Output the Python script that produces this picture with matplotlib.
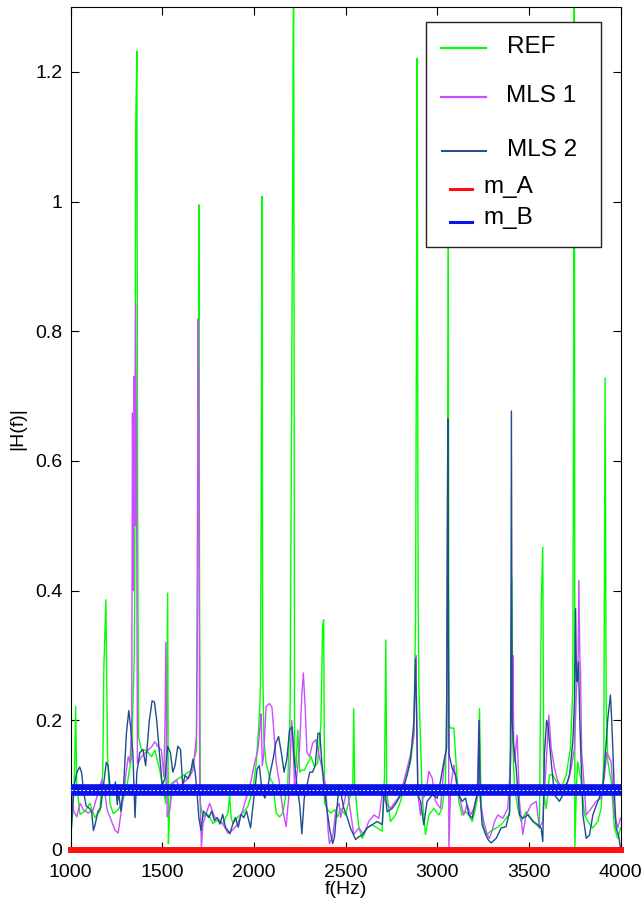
import numpy as np
import matplotlib
matplotlib.use("Agg")
import matplotlib.pyplot as plt
from matplotlib.patches import Rectangle
from matplotlib.lines import Line2D

plt.rcParams['font.family'] = ['Liberation Sans', 'DejaVu Sans']

###################################
# data
###################################

ref_f = [1000, 1012, 1022, 1028, 1034, 1052, 1080, 1106, 1133, 1160, 1176, 1182, 1193, 1202,
         1215, 1233, 1260, 1287, 1310, 1333, 1348, 1351, 1356, 1362, 1366, 1371, 1387, 1414,
         1442, 1460, 1487, 1505, 1520, 1527, 1530, 1534, 1540, 1551, 1578, 1605, 1632, 1659,
         1687, 1693, 1697, 1700, 1704, 1708, 1723, 1741, 1759, 1777, 1804, 1832, 1859, 1868,
         1876, 1886, 1913, 1940, 1967, 1995, 2013, 2031, 2036, 2040, 2044, 2048, 2055, 2067,
         2085, 2104, 2122, 2140, 2158, 2185, 2198, 2208, 2212, 2217, 2222, 2230, 2240, 2250,
         2258, 2276, 2294, 2312, 2330, 2348, 2366, 2375, 2381, 2386, 2403, 2421, 2439, 2457,
         2473, 2500, 2527, 2540, 2545, 2550, 2555, 2573, 2591, 2618, 2645, 2673, 2700, 2713,
         2720, 2725, 2727, 2745, 2773, 2800, 2827, 2855, 2873, 2882, 2887, 2891, 2896, 2900,
         2909, 2918, 2936, 2955, 2982, 3009, 3027, 3045, 3055, 3060, 3064, 3073, 3091, 3105,
         3118, 3136, 3155, 3173, 3191, 3209, 3222, 3231, 3240, 3254, 3273, 3291, 3322, 3349,
         3376, 3395, 3407, 3413, 3422, 3440, 3458, 3485, 3513, 3540, 3558, 3568, 3576, 3582,
         3595, 3613, 3631, 3649, 3676, 3704, 3727, 3740, 3745, 3748, 3751, 3760, 3767, 3785,
         3804, 3822, 3849, 3876, 3894, 3909, 3916, 3922, 3931, 3949, 3967, 3985, 4000]
ref_v = [0.02, 0.055, 0.12, 0.221, 0.10, 0.055, 0.06, 0.072, 0.05, 0.06, 0.12, 0.28, 0.386, 0.145,
         0.072, 0.056, 0.062, 0.077, 0.103, 0.144, 0.30, 0.44, 1.12, 1.232, 0.54, 0.175, 0.154, 0.154,
         0.144, 0.154, 0.123, 0.093, 0.072, 0.30, 0.396, 0.01, 0.06, 0.103, 0.108, 0.113, 0.118, 0.123,
         0.154, 0.375, 0.62, 0.995, 0.40, 0.072, 0.051, 0.057, 0.051, 0.041, 0.046, 0.041, 0.057, 0.085,
         0.05, 0.041, 0.051, 0.057, 0.067, 0.093, 0.134, 0.21, 0.25, 0.532, 1.008, 0.30, 0.17, 0.134,
         0.113, 0.103, 0.057, 0.051, 0.057, 0.103, 0.216, 0.79, 1.037, 1.45, 0.15, 0.127, 0.185, 0.12,
         0.123, 0.123, 0.134, 0.144, 0.129, 0.134, 0.195, 0.345, 0.355, 0.072, 0.062, 0.057, 0.062, 0.051,
         0.064, 0.054, 0.085, 0.10, 0.218, 0.10, 0.085, 0.034, 0.018, 0.034, 0.039, 0.034, 0.029, 0.116,
         0.324, 0.10, 0.085, 0.044, 0.054, 0.075, 0.106, 0.136, 0.177, 0.356, 0.80, 1.221, 0.40, 0.249,
         0.172, 0.085, 0.024, 0.054, 0.064, 0.054, 0.064, 0.106, 0.30, 1.05, 0.193, 0.188, 0.188, 0.126,
         0.075, 0.054, 0.059, 0.054, 0.044, 0.064, 0.085, 0.218, 0.064, 0.034, 0.024, 0.029, 0.034, 0.039,
         0.049, 0.054, 0.42, 0.157, 0.095, 0.064, 0.044, 0.059, 0.049, 0.039, 0.034, 0.383, 0.467, 0.085,
         0.064, 0.116, 0.116, 0.106, 0.095, 0.116, 0.157, 0.249, 0.89, 1.45, 0.003, 0.10, 0.136, 0.106,
         0.054, 0.044, 0.034, 0.044, 0.064, 0.136, 0.728, 0.224, 0.136, 0.106, 0.034, 0.018, 0.034]

mls1_f = [1000, 1015, 1034, 1052, 1070, 1097, 1124, 1150, 1170, 1185, 1200, 1215, 1242, 1260,
          1278, 1296, 1315, 1325, 1334, 1338, 1343, 1347, 1351, 1355, 1360, 1365, 1369, 1387,
          1405, 1423, 1442, 1460, 1478, 1496, 1509, 1516, 1520, 1524, 1527, 1541, 1560, 1578,
          1596, 1614, 1632, 1650, 1668, 1687, 1691, 1696, 1700, 1705, 1714, 1723, 1741, 1759,
          1786, 1813, 1840, 1859, 1886, 1913, 1940, 1967, 1986, 2004, 2022, 2034, 2040, 2046,
          2053, 2067, 2085, 2099, 2110, 2122, 2140, 2158, 2176, 2190, 2198, 2206, 2212, 2222,
          2230, 2249, 2262, 2270, 2280, 2290, 2303, 2321, 2339, 2357, 2375, 2394, 2405, 2412,
          2430, 2448, 2466, 2473, 2490, 2509, 2527, 2545, 2573, 2600, 2627, 2655, 2682, 2700,
          2718, 2745, 2773, 2800, 2827, 2855, 2873, 2880, 2884, 2889, 2895, 2909, 2922, 2936,
          2955, 2973, 2991, 3018, 3036, 3051, 3055, 3058, 3062, 3064, 3073, 3091, 3109, 3127,
          3145, 3164, 3182, 3200, 3218, 3224, 3227, 3232, 3236, 3254, 3273, 3285, 3300, 3313,
          3331, 3358, 3385, 3400, 3406, 3410, 3413, 3418, 3422, 3436, 3449, 3467, 3485, 3513,
          3540, 3558, 3576, 3595, 3609, 3622, 3640, 3658, 3685, 3713, 3731, 3749, 3760, 3764,
          3769, 3773, 3778, 3782, 3788, 3795, 3813, 3840, 3867, 3894, 3913, 3925, 3931, 3949,
          3967, 3985, 4000]
mls1_v = [0.108, 0.062, 0.051, 0.072, 0.062, 0.057, 0.062, 0.088, 0.108, 0.093, 0.062, 0.051, 0.031, 0.026,
          0.062, 0.103, 0.144, 0.134, 0.20, 0.674, 0.40, 0.73, 0.50, 0.844, 0.60, 0.134, 0.134, 0.144,
          0.149, 0.154, 0.159, 0.167, 0.159, 0.154, 0.113, 0.20, 0.32, 0.20, 0.051, 0.062, 0.103, 0.108,
          0.093, 0.103, 0.108, 0.113, 0.123, 0.175, 0.38, 0.819, 0.616, 0.103, 0.005, 0.041, 0.057, 0.072,
          0.051, 0.046, 0.036, 0.026, 0.031, 0.041, 0.062, 0.088, 0.108, 0.134, 0.154, 0.19, 0.21, 0.13,
          0.144, 0.221, 0.226, 0.22, 0.18, 0.134, 0.103, 0.062, 0.036, 0.08, 0.134, 0.20, 0.18, 0.10,
          0.103, 0.154, 0.24, 0.273, 0.22, 0.15, 0.144, 0.165, 0.170, 0.144, 0.123, 0.093, 0.03, 0.01,
          0.021, 0.062, 0.072, 0.05, 0.07, 0.095, 0.06, 0.024, 0.034, 0.024, 0.044, 0.054, 0.049, 0.085,
          0.075, 0.064, 0.075, 0.085, 0.116, 0.147, 0.177, 0.26, 0.30, 0.20, 0.085, 0.054, 0.08, 0.085,
          0.121, 0.111, 0.075, 0.064, 0.126, 0.157, 0.45, 0.60, 0.20, 0.003, 0.095, 0.131, 0.095, 0.075,
          0.054, 0.070, 0.054, 0.064, 0.085, 0.15, 0.198, 0.12, 0.075, 0.044, 0.024, 0.018, 0.03, 0.044,
          0.054, 0.049, 0.064, 0.136, 0.31, 0.20, 0.30, 0.15, 0.136, 0.177, 0.075, 0.024, 0.054, 0.070,
          0.075, 0.034, 0.044, 0.136, 0.208, 0.157, 0.126, 0.106, 0.095, 0.106, 0.126, 0.157, 0.25, 0.26,
          0.30, 0.416, 0.30, 0.275, 0.15, 0.126, 0.054, 0.064, 0.075, 0.080, 0.116, 0.15, 0.147, 0.136,
          0.054, 0.034, 0.049]

mls2_f = [1000, 1008, 1020, 1035, 1050, 1060, 1072, 1085, 1100, 1115, 1125, 1135, 1150, 1165,
          1180, 1195, 1205, 1215, 1230, 1245, 1255, 1262, 1275, 1290, 1305, 1318, 1328, 1340,
          1352, 1362, 1378, 1395, 1410, 1430, 1445, 1458, 1470, 1485, 1500, 1515, 1530, 1545,
          1558, 1570, 1585, 1600, 1612, 1625, 1640, 1655, 1668, 1680, 1690, 1700, 1712, 1725,
          1740, 1755, 1770, 1785, 1800, 1815, 1830, 1845, 1858, 1870, 1885, 1900, 1915, 1930,
          1945, 1960, 1982, 2000, 2018, 2030, 2045, 2060, 2075, 2090, 2105, 2120, 2135, 2150,
          2165, 2180, 2195, 2208, 2220, 2235, 2250, 2262, 2275, 2290, 2305, 2320, 2335, 2350,
          2360, 2372, 2385, 2400, 2415, 2430, 2440, 2452, 2465, 2473, 2490, 2510, 2527, 2555,
          2570, 2591, 2618, 2645, 2673, 2700, 2713, 2727, 2755, 2782, 2809, 2836, 2855, 2873,
          2882, 2887, 2895, 2909, 2927, 2945, 2973, 3000, 3018, 3036, 3051, 3055, 3058, 3062,
          3065, 3082, 3100, 3118, 3136, 3155, 3173, 3191, 3209, 3222, 3229, 3234, 3245, 3264,
          3280, 3295, 3322, 3349, 3376, 3395, 3401, 3405, 3409, 3415, 3431, 3449, 3467, 3495,
          3522, 3549, 3567, 3576, 3585, 3597, 3604, 3622, 3640, 3667, 3695, 3722, 3740, 3749,
          3755, 3760, 3764, 3771, 3778, 3785, 3795, 3813, 3831, 3849, 3876, 3904, 3922, 3931,
          3945, 3952, 3958, 3967, 3976, 3989, 4000]
mls2_v = [0.01, 0.05, 0.10, 0.12, 0.128, 0.12, 0.09, 0.068, 0.065, 0.06, 0.03, 0.04, 0.06, 0.065,
          0.10, 0.135, 0.13, 0.10, 0.085, 0.105, 0.07, 0.09, 0.06, 0.10, 0.18, 0.215, 0.19, 0.15,
          0.05, 0.12, 0.15, 0.155, 0.13, 0.20, 0.23, 0.228, 0.20, 0.15, 0.10, 0.11, 0.16, 0.15,
          0.12, 0.13, 0.16, 0.155, 0.10, 0.115, 0.11, 0.12, 0.14, 0.12, 0.09, 0.05, 0.03, 0.06,
          0.055, 0.05, 0.06, 0.045, 0.05, 0.04, 0.055, 0.035, 0.03, 0.025, 0.04, 0.05, 0.035, 0.055,
          0.05, 0.06, 0.034, 0.08, 0.125, 0.13, 0.09, 0.08, 0.095, 0.12, 0.14, 0.165, 0.175, 0.15,
          0.12, 0.14, 0.185, 0.19, 0.14, 0.10, 0.07, 0.025, 0.08, 0.10, 0.12, 0.12, 0.13, 0.18,
          0.18, 0.13, 0.09, 0.06, 0.03, 0.01, 0.02, 0.06, 0.10, 0.09, 0.065, 0.05, 0.034, 0.016,
          0.02, 0.023, 0.034, 0.039, 0.044, 0.039, 0.10, 0.059, 0.064, 0.075, 0.090, 0.116, 0.141, 0.198,
          0.295, 0.22, 0.085, 0.075, 0.039, 0.075, 0.085, 0.080, 0.106, 0.136, 0.157, 0.40, 0.665, 0.30,
          0.147, 0.126, 0.116, 0.085, 0.075, 0.080, 0.054, 0.049, 0.075, 0.09, 0.20, 0.09, 0.039, 0.024,
          0.015, 0.011, 0.018, 0.034, 0.036, 0.060, 0.157, 0.677, 0.20, 0.167, 0.126, 0.054, 0.049, 0.054,
          0.044, 0.039, 0.034, 0.013, 0.147, 0.20, 0.193, 0.136, 0.085, 0.075, 0.090, 0.116, 0.167, 0.229,
          0.372, 0.26, 0.26, 0.29, 0.20, 0.136, 0.054, 0.018, 0.023, 0.054, 0.075, 0.095, 0.167, 0.203,
          0.239, 0.20, 0.157, 0.085, 0.034, 0.023, 0.003]

mA = 0.0      # mean A
mB = 0.093    # mean B

xticks = [1000, 1500, 2000, 2500, 3000, 3500, 4000]
yticks = [0, 0.2, 0.4, 0.6, 0.8, 1.0, 1.2]
ytick_labels = ['0', '0.2', '0.4', '0.6', '0.8', '1', '1.2']

leg_labels = ['REF', 'MLS 1', 'MLS 2', 'm_A', 'm_B']
c_ref = '#00ff00'
c_mls1 = '#cc4dff'
c_mls2 = '#1c4f8c'
c_mA = '#ff1010'
c_mB = '#0a14e6'

###################################
# figure
###################################

W, H = 641, 901
fig = plt.figure(figsize=(W / 100, H / 100), dpi=100)
ax = fig.add_axes([70.5 / W, 1 - 850 / H, 550 / W, 843 / H])

ax.plot(ref_f, ref_v, color=c_ref, lw=1.0)
ax.plot(mls1_f, mls1_v, color=c_mls1, lw=1.0)
ax.plot(mls2_f, mls2_v, color=c_mls2, lw=1.0)
ax.axhline(mA, color=c_mA, lw=4.3, clip_on=False, zorder=5)
ax.axhline(mB, color=c_mB, lw=8.4, zorder=5)
ax.axhline(mB, color='white', lw=0.7, ls=(0, (2, 2)), zorder=6)

ax.set_xlim(1000, 4000)
ax.set_ylim(0, 1.3)
ax.set_xticks(xticks)
ax.set_xticklabels([str(x) for x in xticks])
ax.set_yticks(yticks)
ax.set_yticklabels(ytick_labels)
ax.tick_params(direction='in', top=True, right=True, length=6, width=0.8,
               labelsize=14)
ax.tick_params(axis='x', pad=10)
ax.tick_params(axis='y', pad=6)
for s in ax.spines.values():
    s.set_linewidth(0.8)

ax.set_xlabel('f(Hz)', fontsize=14, labelpad=0)
ax.set_ylabel('|H(f)|', fontsize=14, labelpad=6)

# legend drawn by hand (matlab style, uneven spacing)
def fx(x):
    return x / W

def fy(y):
    return 1 - y / H

box = Rectangle((fx(426), fy(247)), (600.5 - 426) / W, (247 - 22.3) / H,
                transform=fig.transFigure, facecolor='white', edgecolor='#222222',
                lw=1.0, zorder=10)
fig.add_artist(box)

leg_colors = [c_ref, c_mls1, c_mls2, c_mA, c_mB]
leg_line_x = [(441, 486), (441, 486), (442, 486), (450, 472), (450, 472)]
leg_line_y = [48, 97, 151, 189, 222]
leg_line_w = [1.6, 1.6, 1.4, 2.2, 2.2]
leg_text_x = [507, 506, 507, 483, 483]
leg_text_y = [53, 101.5, 156, 193, 224]

for i in range(len(leg_labels)):
    x0, x1 = leg_line_x[i]
    ln = Line2D([fx(x0), fx(x1)], [fy(leg_line_y[i])] * 2, transform=fig.transFigure,
                color=leg_colors[i], lw=leg_line_w[i], zorder=11)
    fig.add_artist(ln)
    fig.text(fx(leg_text_x[i]), fy(leg_text_y[i]), leg_labels[i], fontsize=17.5,
             ha='left', va='baseline', zorder=12)

fig.savefig('out.png', dpi=100)
